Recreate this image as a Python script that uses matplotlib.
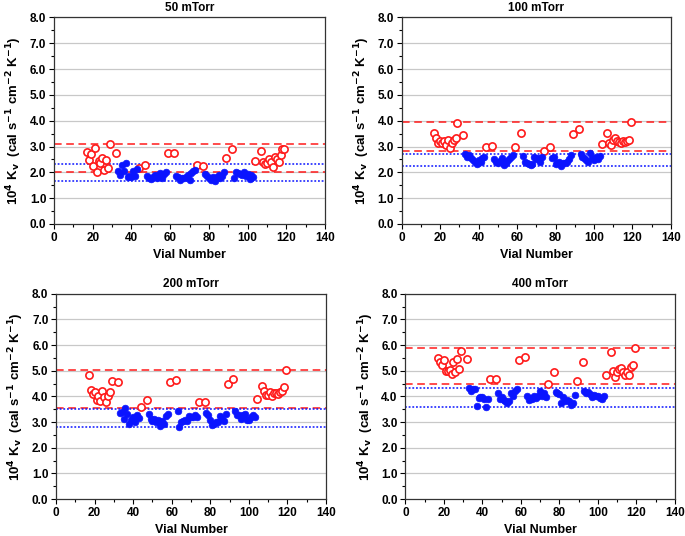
import matplotlib
matplotlib.use("Agg")
import matplotlib.pyplot as plt
from matplotlib.ticker import MultipleLocator, FormatStrFormatter

plt.rcParams['font.family'] = ['Liberation Sans', 'DejaVu Sans']
plt.rcParams['font.weight'] = 'bold'
plt.rcParams['mathtext.default'] = 'bf'

titles = ["50 mTorr", "100 mTorr", "200 mTorr", "400 mTorr"]

edge_vials = [17, 18, 19, 20, 21, 22, 23, 24, 25, 26, 27, 28, 29, 32, 44, 47, 59, 62,
              74, 77, 89, 92, 104, 107, 108, 109, 110, 111, 112, 113, 114, 115, 116,
              117, 118, 119]
center_vials = (list(range(33, 44)) + list(range(48, 59)) + list(range(63, 74))
                + list(range(78, 89)) + list(range(93, 104)))

edge_50 = [2.79, 2.48, 2.71, 2.26, 2.94, 2.00, 2.43, 2.35, 2.57, 2.10, 2.49, 2.17, 3.10,
           2.75, 2.18, 2.27, 2.76, 2.76, 2.27, 2.26, 2.57, 2.90, 2.44, 2.83, 2.39, 2.34,
           2.36, 2.53, 2.40, 2.22, 2.60, 2.50, 2.41, 2.67, 2.90, 2.90]
center_50 = [2.06, 1.90, 2.27, 2.06, 2.35, 1.81, 1.87, 1.83, 2.04, 1.87, 2.13,
             1.87, 1.77, 1.73, 1.83, 1.90, 1.77, 1.83, 1.99, 1.79, 1.95, 2.00,
             1.86, 1.83, 1.70, 1.77, 1.79, 1.83, 1.90, 1.70, 1.96, 2.06, 2.10,
             1.94, 1.87, 1.77, 1.70, 1.83, 1.68, 1.83, 1.90, 1.77, 1.87, 2.01,
             1.79, 2.03, 1.99, 1.94, 1.90, 2.01, 1.86, 1.94, 1.74, 1.90, 1.83]

edge_100 = [3.54, 3.32, 3.15, 3.23, 3.12, 3.23, 3.06, 3.25, 2.95, 3.15, 3.25, 3.32, 3.90,
            3.45, 2.99, 3.03, 2.99, 3.54, 2.84, 2.99, 3.48, 3.69, 3.10, 3.51, 3.15, 3.06,
            3.25, 3.32, 3.23, 3.19, 3.15, 3.23, 3.19, 3.23, 3.25, 3.94]
center_100 = [2.70, 2.61, 2.67, 2.54, 2.48, 2.39, 2.32, 2.48, 2.41, 2.54, 2.61,
              2.50, 2.41, 2.35, 2.45, 2.54, 2.28, 2.37, 2.45, 2.50, 2.58, 2.67,
              2.65, 2.41, 2.35, 2.32, 2.28, 2.31, 2.58, 2.50, 2.54, 2.41, 2.61,
              2.54, 2.61, 2.32, 2.35, 2.41, 2.26, 2.35, 2.37, 2.41, 2.50, 2.67,
              2.70, 2.61, 2.54, 2.48, 2.39, 2.74, 2.54, 2.48, 2.58, 2.50, 2.63]

edge_200 = [4.84, 4.26, 4.09, 4.17, 3.84, 4.00, 3.83, 4.22, 3.96, 3.78, 4.00, 4.17, 4.61,
            4.55, 3.57, 3.84, 4.55, 4.65, 3.77, 3.78, 4.48, 4.68, 3.90, 4.39, 4.19, 4.06,
            4.06, 4.16, 4.00, 4.13, 4.13, 4.09, 4.17, 4.19, 4.36, 5.01]
center_200 = [3.35, 3.39, 3.12, 3.55, 3.32, 2.94, 3.09, 3.18, 3.00, 3.29, 3.16,
              3.31, 3.13, 3.03, 3.13, 3.00, 3.09, 2.83, 3.03, 2.92, 3.22, 3.32,
              3.42, 2.79, 3.00, 3.05, 3.09, 3.05, 3.22, 3.18, 3.18, 3.29, 3.18,
              3.35, 3.26, 3.09, 2.87, 2.92, 3.00, 2.99, 3.22, 3.13, 3.05, 3.32,
              3.42, 3.29, 3.29, 3.13, 3.29, 3.32, 3.09, 3.09, 3.18, 3.29, 3.19]

edge_400 = [5.49, 5.32, 5.23, 5.43, 5.00, 5.00, 5.04, 4.87, 5.34, 4.95, 5.47, 5.06, 5.75,
            5.47, 4.69, 4.68, 5.42, 5.52, 4.49, 4.94, 4.61, 5.32, 4.84, 5.71, 5.00, 4.77,
            4.95, 5.06, 5.10, 4.95, 4.82, 4.95, 4.82, 5.13, 5.21, 5.87]
center_400 = [4.32, 4.22, 4.30, 4.30, 3.61, 3.94, 3.97, 3.97, 3.91, 3.57, 3.91,
              4.13, 3.91, 3.97, 3.87, 3.81, 3.74, 3.81, 4.13, 4.00, 4.19, 4.30,
              4.00, 3.87, 3.94, 3.91, 4.00, 3.94, 4.03, 4.22, 4.00, 4.13, 3.96,
              4.17, 4.13, 4.09, 3.74, 3.96, 3.81, 3.87, 3.83, 3.68, 3.74, 4.06,
              4.22, 4.13, 4.17, 4.09, 3.96, 4.06, 4.00, 4.00, 3.94, 3.90, 4.00]

edge_limits = [(2.00, 3.10), (2.81, 3.94), (3.55, 5.01), (4.49, 5.87)]
center_limits = [(1.68, 2.34), (2.25, 2.72), (2.79, 3.52), (3.57, 4.31)]

edge_sets = [edge_50, edge_100, edge_200, edge_400]
center_sets = [center_50, center_100, center_200, center_400]

positions = [
    [0.0788, 0.5821, 0.3957, 0.3853],
    [0.5864, 0.5821, 0.3931, 0.3853],
    [0.0818, 0.0690, 0.3942, 0.3831],
    [0.5917, 0.0690, 0.3937, 0.3831],
]

RED = '#ff1a1a'
BLUE = '#0a14ff'

fig = plt.figure(figsize=(6.85, 5.36), dpi=100)
for i in range(4):
    ax = fig.add_axes(positions[i])
    ax.set_xlim(0, 140)
    ax.set_ylim(0, 8)
    for yv in range(1, 9):
        ax.axhline(yv, color='#c8c8c8', lw=0.9, zorder=0)
    lo, hi = edge_limits[i]
    ax.axhline(lo, color=RED, ls=(0, (5, 3)), lw=1.1, zorder=1)
    ax.axhline(hi, color=RED, ls=(0, (5, 3)), lw=1.1, zorder=1)
    clo, chi = center_limits[i]
    ax.axhline(clo, color=BLUE, ls=(0, (1.2, 1.2)), lw=1.1, zorder=1)
    ax.axhline(chi, color=BLUE, ls=(0, (1.2, 1.2)), lw=1.1, zorder=1)
    ax.plot(edge_vials, edge_sets[i], 'o', ms=5.2, mfc='white', mec=RED, mew=1.2,
            ls='none', zorder=3)
    ax.plot(center_vials, center_sets[i], 'o', ms=4.8, mfc=BLUE, mec=BLUE, mew=0.5,
            ls='none', zorder=3)
    ax.xaxis.set_major_locator(MultipleLocator(20))
    ax.xaxis.set_minor_locator(MultipleLocator(10))
    ax.yaxis.set_major_locator(MultipleLocator(1))
    ax.yaxis.set_minor_locator(MultipleLocator(0.5))
    ax.yaxis.set_major_formatter(FormatStrFormatter('%.1f'))
    ax.tick_params(which='major', direction='out', length=3.5, width=0.8,
                   labelsize=8.5, pad=2)
    ax.tick_params(which='minor', direction='out', length=2, width=0.8)
    for lab in ax.get_xticklabels() + ax.get_yticklabels():
        lab.set_fontweight('bold')
    for sp in ax.spines.values():
        sp.set_linewidth(0.9)
        sp.set_color('#333333')
    ax.set_title(titles[i], fontsize=8.5, fontweight='bold', pad=5)
    ax.set_xlabel('Vial Number', fontsize=9, fontweight='bold', labelpad=4)
    ax.set_ylabel(r'10$^{4}$ K$_{v}$  (cal s$^{-1}$ cm$^{-2}$ K$^{-1}$)',
                  fontsize=9.5, fontweight='bold', labelpad=4)

fig.savefig('out.png', dpi=100)
